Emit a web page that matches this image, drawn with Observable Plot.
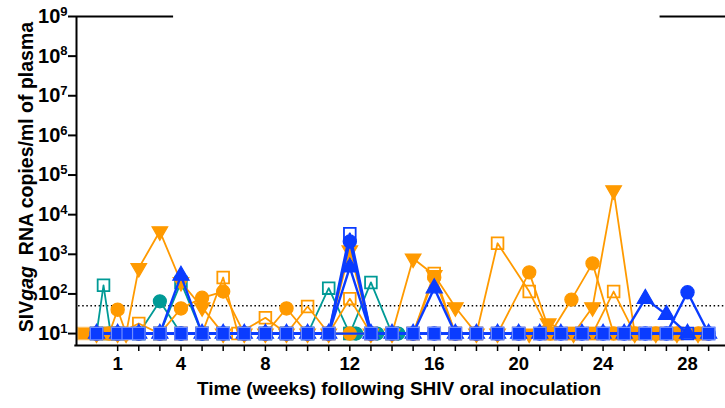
<!DOCTYPE html>
<html><head><meta charset="utf-8">
<script src="https://cdn.jsdelivr.net/npm/d3@7"></script>
<script src="https://cdn.jsdelivr.net/npm/@observablehq/plot@0.6"></script>
<style>body{margin:0;background:#fff}svg{display:block}</style>
</head><body><div id="chart"></div>
<script>
// ---- data (weeks after inoculation, SIV gag RNA copies/ml; undetectable plotted at 10) ----
const yTickValues = [1e1, 1e2, 1e3, 1e4, 1e5, 1e6, 1e7, 1e8, 1e9];
const xTickValues = [1,2,3,4,5,6,7,8,9,10,11,12,13,14,15,16,17,18,19,20,21,22,23,24,25,26,27,28,29];
const xTickLabels = [1, 4, 8, 12, 16, 20, 24, 28];
const detectionLimit = 50;

const orangeFilledSqWeeks = [-0.6,0.5,1,2,3,4,5,6,7,8,9,10,11,12,13,14,15,16,17,18,19,20,21.5,22.6,23.6,24.6,25.5,26.6,27.5,28.8];
const orangeFilledSqVals  = [10,10,10,10,10,10,10,10,10,10,10,10,10,10,10,10,10,10,10,10,10,10,10,10,10,10,10,10,10,10];

const tealCircleWeeks = [0,1,2,3,4,5,6,7,8,9,10,11,12.3,13.3,14.3];
const tealCircleVals  = [10,10,10,65,10,10,10,10,10,10,10,10,10,10,10];

const tealOpenSqWeeks = [0,0.33,0.67,1,2,3,4,5,6,7,8,9,10,11,12,13,14];
const tealOpenSqVals  = [10,165,10,10,10,10,195,10,10,10,10,10,10,140,10,195,10];

const orangeOpenSqWeeks = [0,0.6,1,2,3,4,5,6,6.7,8,9,10,11,12,13,14,15,16,17,18,19,20.5,21.5,22.5,23.5,24.5,25.5,26.5,27.5,28.8];
const orangeOpenSqVals  = [10,10,10,18,10,10,10,260,10,25,10,48,10,76,10,10,10,330,10,10,1900,115,10,10,10,115,10,10,10,10];

const orangeCircleWeeks = [0,0.6,1,1.4,2,3,4,5,6,7,8,9,10,11,12,13,14,15,16,17,18,19,20.5,21.5,22.5,23.5,24.5,25.5,26.5,27.5,28.5];
const orangeCircleVals  = [10,10,40,10,10,10,43,80,115,10,10,43,10,10,10,10,10,10,260,10,10,10,350,10,72,590,10,10,10,10,10];

const orangeTriDownWeeks = [0,1,1.4,2,3,4,5,6,7,8,9,10,11,12,13,14,15,16,17,18,19,20.5,21.4,22.6,23.5,24.5,25.5,26.5,27.5,28.5];
const orangeTriDownVals  = [10,10,10,450,3800,200,46,10,10,10,10,10,10,1250,10,10,780,300,46,10,10,10,18,10,46,41000,10,10,10,10];

const blueWeeks = [0,1,2,3,4,5,6,7,8,9,10,11,12,13,14,15,16,17,18,19,20,21,22,23,24,25,26,27,28,29];
const blueOpenSqVals = [10,10,10,10,10,10,10,10,10,10,10,10,3300,10,10,10,10,10,10,10,10,10,10,10,10,10,10,10,10,10];
const blueCircleVals = [10,10,10,10,10,10,10,10,10,10,10,10,2100,10,10,10,10,10,10,10,10,10,10,10,10,10,10,10,110,10];
const blueTriVals    = [10,10,10,10,290,10,10,10,10,10,10,10,470,10,10,10,140,10,10,10,10,10,10,10,10,10,76,30,10,10];

const blueFilledSqWeeks = [0,1,1.5,2,3,4,5,6,7,8,9,10,11,13,14,15,16,17,18,19,20,21,22,23,24,25,26,27,29];
const blueFilledSqVals  = [10,10,10,10,10,10,10,10,10,10,10,10,10,10,10,10,10,10,10,10,10,10,10,10,10,10,10,10,10];

// ---- styles ----
const ORANGE = "#ff9a00", TEAL = "#009a96", BLUE = "#0a3cff";
const series = [
  {weeks: orangeFilledSqWeeks, vals: orangeFilledSqVals, color: ORANGE, symbol: "square", r: 7, open: false, edge: "#ffc061", lw: 1.8},
  {weeks: tealCircleWeeks, vals: tealCircleVals, color: TEAL, symbol: "circle", r: 6.5, open: false, edge: TEAL, lw: 1.8},
  {weeks: tealOpenSqWeeks, vals: tealOpenSqVals, color: TEAL, symbol: "square", r: 6.6, open: true, lw: 1.8},
  {weeks: orangeOpenSqWeeks, vals: orangeOpenSqVals, color: ORANGE, symbol: "square", r: 6.6, open: true, lw: 1.8},
  {weeks: orangeCircleWeeks, vals: orangeCircleVals, color: ORANGE, symbol: "circle", r: 6.6, open: false, edge: ORANGE, lw: 1.8},
  {weeks: orangeTriDownWeeks, vals: orangeTriDownVals, color: ORANGE, symbol: "triangle", rotate: 180, r: 5.8, open: false, edge: ORANGE, lw: 1.8},
  {weeks: blueWeeks, vals: blueOpenSqVals, color: BLUE, symbol: "square", r: 6.6, open: true, lw: 2.4},
  {weeks: blueWeeks, vals: blueCircleVals, color: BLUE, symbol: "circle", r: 6.6, open: false, edge: BLUE, lw: 2.4},
  {weeks: blueWeeks, vals: blueTriVals, color: BLUE, symbol: "triangle", r: 6, open: false, edge: BLUE, lw: 2.4},
  {weeks: blueFilledSqWeeks, vals: blueFilledSqVals, color: BLUE, symbol: "square", r: 7, open: false, edge: "#6f8dff", lw: 2.2}
];

const X0 = -0.95, X1 = 29.8;
const marks = [
  Plot.ruleY([detectionLimit], {x1: X0 + 0.1, x2: X1, stroke: "#000", strokeWidth: 1.5, strokeDasharray: "1.5,2.6"})
];
for (const s of series) {
  const data = s.weeks.map((w, i) => ({week: w, value: s.vals[i]}));
  marks.push(Plot.line(data, {x: "week", y: "value", stroke: s.color, strokeWidth: s.lw}));
  marks.push(Plot.dot(data, {
    x: "week", y: "value", symbol: s.symbol, r: s.r, rotate: s.rotate || 0,
    fill: s.open ? "none" : s.color,
    stroke: s.open ? s.color : s.edge,
    strokeWidth: s.open ? 1.8 : 1.2
  }));
}
marks.push(
  Plot.ruleX([X0], {y1: 4.8, y2: 1e9, stroke: "#000", strokeWidth: 2}),
  Plot.ruleY([5], {x1: X0 - 0.08, x2: X1, stroke: "#000", strokeWidth: 2}),
  Plot.ruleY([1e9], {x1: X0, x2: 3.65, stroke: "#000", strokeWidth: 2}),
  Plot.ruleY([1e9], {x1: 26.7, x2: X1, stroke: "#000", strokeWidth: 2}),
  Plot.axisY({ticks: yTickValues, tickSize: 8, tickPadding: 1, strokeWidth: 2,
    tickFormat: d => String(Math.round(Math.log10(d))), label: null, fontSize: 20}),
  Plot.axisX({ticks: xTickValues, tickSize: 6, tickPadding: 5, strokeWidth: 1.5,
    tickFormat: d => xTickLabels.includes(d) ? String(d) : "", label: null, fontSize: 18.5})
);

const chart = Plot.plot({
  width: 725, height: 408,
  marginLeft: 76, marginRight: 0, marginTop: 16, marginBottom: 63,
  x: {domain: [X0, X1]},
  y: {type: "log", domain: [5, 1e9]},
  style: {fontFamily: "'Liberation Sans', Arial, sans-serif", fontWeight: "bold", color: "#000", background: "#fff", overflow: "visible"},
  marks
});
document.getElementById("chart").appendChild(chart);

const svg = d3.select(chart);
// superscript exponents on the log axis
svg.selectAll('g[aria-label="y-axis tick label"] text').each(function() {
  const t = d3.select(this);
  const e = t.text();
  t.text("");
  t.append("tspan").text("10");
  t.append("tspan").attr("dy", "-0.55em").attr("font-size", "13px").text(e);
});
// axis titles
const yt = svg.append("text")
  .attr("transform", "translate(33,177) rotate(-90)")
  .attr("text-anchor", "middle")
  .attr("font-size", "19.5px").attr("font-weight", "bold")
  .attr("font-family", "'Liberation Sans', Arial, sans-serif")
  .attr("fill", "#000");
yt.append("tspan").text("SIV");
yt.append("tspan").attr("font-style", "italic").text("gag");
yt.append("tspan").text("\u00a0 RNA copies/ml of plasma");

svg.append("text")
  .attr("x", 399).attr("y", 395)
  .attr("text-anchor", "middle")
  .attr("font-size", "19px").attr("font-weight", "bold")
  .attr("font-family", "'Liberation Sans', Arial, sans-serif")
  .attr("fill", "#000")
  .text("Time (weeks) following SHIV oral inoculation");
</script>
</body></html>
